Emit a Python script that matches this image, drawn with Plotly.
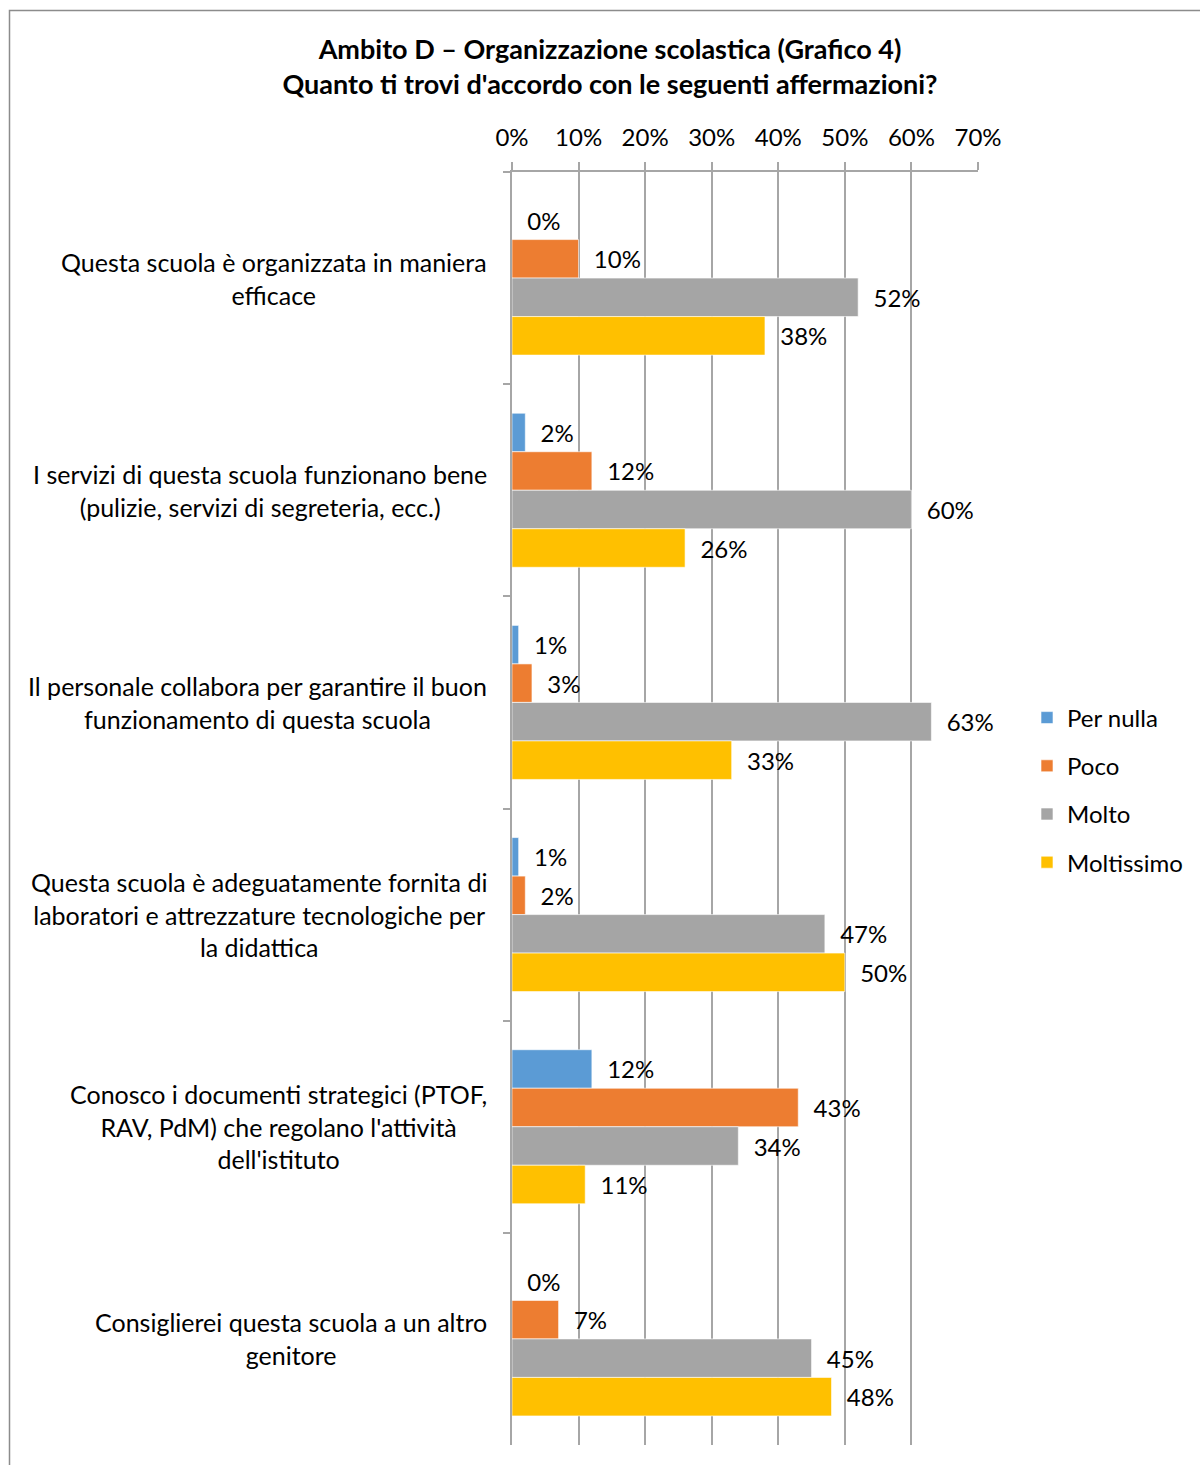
import plotly.graph_objects as go

categories = [
    "Questa scuola è organizzata in maniera<br>efficace",
    "I servizi di questa scuola funzionano bene<br>(pulizie, servizi di segreteria, ecc.)",
    "Il personale collabora per garantire il buon<br>funzionamento di questa scuola",
    "Questa scuola è adeguatamente fornita di<br>laboratori e attrezzature tecnologiche per<br>la didattica",
    "Conosco i documenti strategici (PTOF,<br>RAV, PdM) che regolano l'attività<br>dell'istituto",
    "Consiglierei questa scuola a un altro<br>genitore",
]
cat_ids = ["c1", "c2", "c3", "c4", "c5", "c6"]

per_nulla = [0.00, 0.02, 0.01, 0.01, 0.12, 0.00]
poco = [0.10, 0.12, 0.03, 0.02, 0.43, 0.07]
molto = [0.52, 0.60, 0.63, 0.47, 0.34, 0.45]
moltissimo = [0.38, 0.26, 0.33, 0.50, 0.11, 0.48]

series_names = ["Per nulla", "Poco", "Molto", "Moltissimo"]
series_values = [per_nulla, poco, molto, moltissimo]
colors = ["#5B9BD5", "#ED7D31", "#A5A5A5", "#FFC000"]

FONT = "Lato"
W, H = 1200, 1465
L, R, T, B = 512, 222, 172, 20
PW, PH = W - L - R, H - T - B

fig = go.Figure()
for name, vals, col in zip(series_names, series_values, colors):
    fig.add_trace(go.Bar(
        name=name, y=cat_ids, x=vals, orientation="h",
        marker=dict(color=col, line=dict(color="rgba(255,255,255,0.6)", width=1)),
        texttemplate="\u00a0\u00a0%{x:.0%}", textposition="outside",
        textfont=dict(family=FONT, size=24, color="#000000"),
        cliponaxis=False, constraintext="none",
        legendgroup=name,
    ))

annotations = []
for cid, label in zip(cat_ids, categories):
    annotations.append(dict(
        x=0, xref="paper", y=cid, yref="y", text=label, showarrow=False,
        xanchor="right", yanchor="middle", align="center", xshift=-23,
        font=dict(family=FONT, size=25, color="#000000"),
    ))

def px_x(p):
    return (p - L) / PW

def px_y(p):
    return 1 - (p - T) / PH

fig.update_layout(
    width=W, height=H,
    margin=dict(l=L, r=R, t=T, b=B, autoexpand=False),
    paper_bgcolor="white", plot_bgcolor="white",
    barmode="group", bargap=0.274, bargroupgap=0,
    title=dict(
        text="Ambito D – Organizzazione scolastica (Grafico 4)<br>Quanto ti trovi d'accordo con le seguenti affermazioni?",
        x=610 / W, xanchor="center", y=1 - 59 / H, yanchor="top",
        font=dict(family=FONT, size=27, color="#000000", weight="bold"),
    ),
    xaxis=dict(
        range=[0, 0.7], dtick=0.1, tick0=0, tickformat=".0%", side="top",
        showline=True, linecolor="#A6A6A6", linewidth=1.5,
        ticks="outside", ticklen=8, tickcolor="#A6A6A6", tickwidth=1.5,
        showgrid=True, gridcolor="#A6A6A6", gridwidth=1.5, zeroline=False,
        tickfont=dict(family=FONT, size=24, color="#000000"),
        ticklabelstandoff=7, fixedrange=True,
    ),
    yaxis=dict(
        type="category", categoryarray=cat_ids, autorange="reversed",
        showline=True, linecolor="#A6A6A6", linewidth=1.5,
        ticks="outside", ticklen=7, tickcolor="#A6A6A6", tickwidth=1.5,
        tickson="boundaries", showticklabels=False, showgrid=False,
        zeroline=False, fixedrange=True,
    ),
    legend=dict(
        x=px_x(1027), xanchor="left", y=px_y(790), yanchor="middle",
        traceorder="grouped", tracegroupgap=14, itemwidth=30,
        font=dict(family=FONT, size=24, color="#000000"),
        bgcolor="rgba(0,0,0,0)", itemclick=False, itemdoubleclick=False,
    ),
    annotations=annotations,
    shapes=[dict(
        type="rect", xref="paper", yref="paper",
        x0=px_x(9.5), x1=px_x(1230), y0=px_y(1500), y1=px_y(10.5),
        line=dict(color="#8C8C8C", width=1.5), fillcolor="rgba(0,0,0,0)",
        layer="below",
    )],
    showlegend=True,
)

fig.write_html(
    "out.html",
    config={"displayModeBar": False},
    post_script="document.body.style.margin='0';document.body.style.overflow='hidden';",
)
